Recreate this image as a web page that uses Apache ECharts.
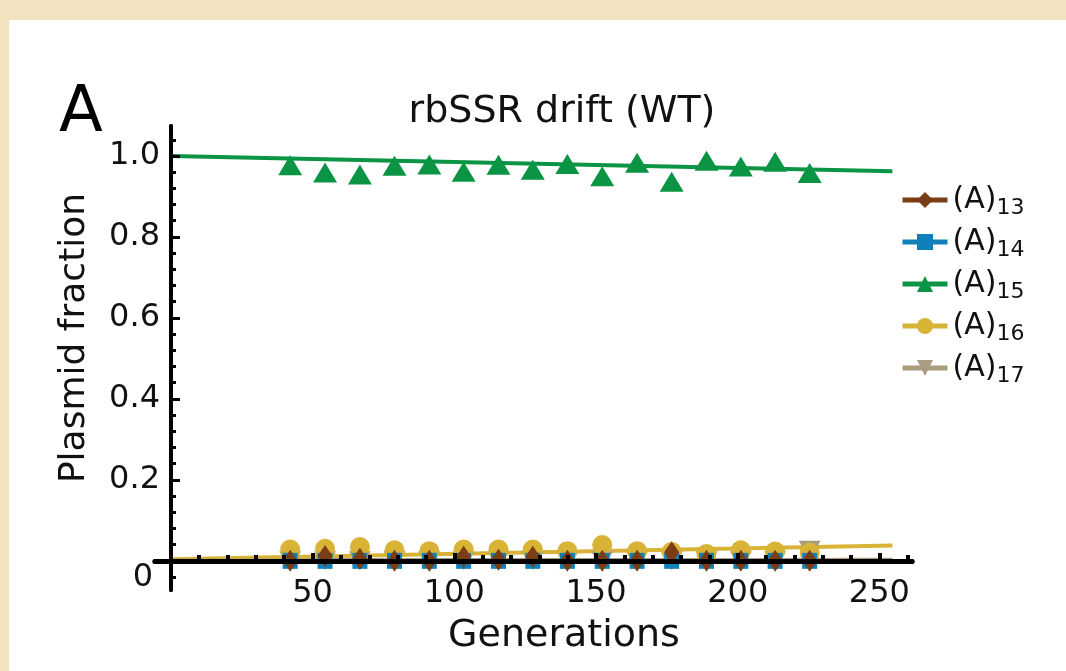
<!DOCTYPE html>
<html>
<head>
<meta charset="utf-8">
<script src="https://cdn.jsdelivr.net/npm/echarts@6/dist/echarts.min.js"></script>
<style>
  html, body { margin: 0; padding: 0; width: 1066px; height: 671px; overflow: hidden; background: #f2e2bf; }
  #panel { position: absolute; left: 9px; top: 20px; right: 0; bottom: 0; background: #ffffff; }
  #chart { position: absolute; left: 0; top: 0; width: 1066px; height: 671px; }
</style>
</head>
<body>
<div id="panel"></div>
<div id="chart"></div>
<script>
// Sampling points (generations) and measured plasmid fractions per repeat length
const generations = [42.1, 54.4, 66.7, 78.9, 91.2, 103.3, 115.6, 127.7, 139.9, 152.2, 164.5, 176.7, 189.0, 201.1, 213.2, 225.4];
const a13 = [0, 0.012, 0.005, 0, 0, 0.010, 0.003, 0.010, 0, 0, 0, 0.021, 0, 0, 0, 0];
const a14 = [0, 0, 0, 0, 0, 0, 0, 0, 0, 0, 0, 0, 0, 0, 0, 0];
const a15 = [0.977, 0.959, 0.954, 0.976, 0.979, 0.961, 0.978, 0.966, 0.980, 0.950, 0.983, 0.936, 0.988, 0.974, 0.986, 0.958];
const a16 = [0.028, 0.030, 0.034, 0.026, 0.024, 0.028, 0.028, 0.028, 0.024, 0.039, 0.024, 0.022, 0.017, 0.026, 0.023, 0.020];
const a17 = [0, 0, 0, 0, 0, 0, 0, 0, 0, 0, 0, 0, 0, 0, 0, 0.026];

// Drift fit lines: start and end generation, and fitted fraction at each end
const fitGenerations = [0, 254.6];
const fitA13 = [0.001, 0.001];
const fitA14 = [0, 0];
const fitA15 = [1.0, 0.962];
const fitA16 = [0.004, 0.038];
const fitA17 = [0, 0.003];

// Axis ticks
const xMajorTicks = [50, 100, 150, 200, 250];
const yMajorTicks = [0, 0.2, 0.4, 0.6, 0.8, 1.0];

const xMinorTicks = [];
for (let v = 10; v <= 260; v += 10) if (v % 50 !== 0) xMinorTicks.push(v);
const yMinorTicks = [];
for (let k = -1; k <= 26; k++) if (k % 5 !== 0) yMinorTicks.push(+(k * 0.04).toFixed(2));

const FONT = 'DejaVu Sans';

// Plot frame: axes cross at (0, 0), slightly inside the plotting box
const X_MIN = -5.6, X_MAX = 261.5, Y_MIN = -0.072, Y_MAX = 1.074;
const GRID = { left: 155, top: 126, width: 757, height: 464 };
const yAxisShift = -Math.round((0 - X_MIN) / (X_MAX - X_MIN) * GRID.width);
const xAxisShift = -Math.round((0 - Y_MIN) / (Y_MAX - Y_MIN) * GRID.height);

const species = [
  { name: '(A)13', color: '#7a3d14', symbol: 'diamond', size: [15, 22], values: a13, fit: fitA13, z: 6 },
  { name: '(A)14', color: '#1180b8', symbol: 'rect', size: [15, 16], values: a14, fit: fitA14, z: 5 },
  { name: '(A)15', color: '#0b9444', symbol: 'triangle', size: [24, 20], values: a15, fit: fitA15, z: 6 },
  { name: '(A)16', color: '#d9b336', symbol: 'circle', size: 20, values: a16, fit: fitA16, z: 4 },
  { name: '(A)17', color: '#a99c80', symbol: 'path://M0,0 L10,0 L5,9 Z', size: [22, 19], values: a17, fit: fitA17, z: 3 }
];

const series = [];
species.forEach(s => {
  series.push({
    type: 'line',
    name: s.name,
    data: fitGenerations.map((g, i) => [g, s.fit[i]]),
    symbol: s.symbol,
    showSymbol: false,
    lineStyle: { color: s.color, width: 4 },
    itemStyle: { color: s.color },
    z: 1,
    silent: true
  });
});
species.forEach(s => {
  series.push({
    type: 'scatter',
    name: s.name,
    data: generations.map((g, i) => [g, s.values[i]]),
    symbol: s.symbol,
    symbolSize: s.size,
    itemStyle: { color: s.color, opacity: 1 },
    z: s.z
  });
});

const axisBase = {
  type: 'value',
  splitLine: { show: false }
};

const chart = echarts.init(document.getElementById('chart'), null, { renderer: 'canvas' });
chart.setOption({
  animation: false,
  backgroundColor: 'transparent',
  textStyle: { fontFamily: FONT },
  grid: Object.assign({ containLabel: false }, GRID),
  xAxis: [
    Object.assign({}, axisBase, {
      min: X_MIN, max: X_MAX, position: 'bottom', offset: xAxisShift, z: 10,
      axisLine: { onZero: false, lineStyle: { color: '#000', width: 5 } },
      axisTick: { inside: true, length: 8, customValues: xMajorTicks, lineStyle: { color: '#000', width: 4 } },
      axisLabel: { customValues: xMajorTicks, margin: 17, color: '#111', fontSize: 32, fontFamily: FONT }
    }),
    Object.assign({}, axisBase, {
      min: X_MIN, max: X_MAX, position: 'bottom', offset: xAxisShift, z: 10,
      axisLine: { onZero: false, lineStyle: { color: '#000', width: 5 } },
      axisTick: { inside: true, length: 6, customValues: xMinorTicks, lineStyle: { color: '#000', width: 4 } },
      axisLabel: { show: false }
    })
  ],
  yAxis: [
    Object.assign({}, axisBase, {
      min: Y_MIN, max: Y_MAX, position: 'left', offset: yAxisShift, z: 10,
      axisLine: { onZero: false, lineStyle: { color: '#000', width: 4 } },
      axisTick: { inside: true, length: 9, customValues: yMajorTicks, lineStyle: { color: '#000', width: 3 } },
      axisLabel: {
        customValues: yMajorTicks, margin: 11, color: '#111', fontSize: 32, fontFamily: FONT,
        formatter: v => (v === 0 ? '{z|0}' : v.toFixed(1)),
        rich: { z: { fontSize: 32, fontFamily: FONT, color: '#111', padding: [34, 7, 0, 0] } }
      }
    }),
    Object.assign({}, axisBase, {
      min: Y_MIN, max: Y_MAX, position: 'left', offset: yAxisShift, z: 10,
      axisLine: { onZero: false, lineStyle: { color: '#000', width: 4 } },
      axisTick: { inside: true, length: 5, customValues: yMinorTicks, lineStyle: { color: '#000', width: 3 } },
      axisLabel: { show: false }
    })
  ],
  legend: {
    orient: 'vertical',
    left: 900,
    top: 181,
    padding: 0,
    itemWidth: 45,
    itemHeight: 20,
    itemGap: 4,
    data: species.map(s => s.name),
    lineStyle: { width: 5 },
    formatter: name => '(A){s|' + name.slice(3) + '}',
    textStyle: {
      fontFamily: FONT, fontSize: 30, color: '#111', lineHeight: 30,
      rich: { s: { fontFamily: FONT, fontSize: 22, color: '#111', lineHeight: 22, padding: [16, 0, 0, 0] } }
    },
    selectedMode: false
  },
  graphic: [
    { type: 'text', x: 81, y: 114, style: { text: 'A', fontFamily: FONT, fontSize: 64, fill: '#000', align: 'center', verticalAlign: 'middle' } },
    { type: 'text', x: 562, y: 112, style: { text: 'rbSSR drift (WT)', fontFamily: FONT, fontSize: 38, fill: '#111', align: 'center', verticalAlign: 'middle' } },
    { type: 'text', x: 564, y: 636, style: { text: 'Generations', fontFamily: FONT, fontSize: 38, fill: '#111', align: 'center', verticalAlign: 'middle' } },
    { type: 'text', x: 75, y: 338, rotation: Math.PI / 2, style: { text: 'Plasmid fraction', fontFamily: FONT, fontSize: 36, fill: '#111', align: 'center', verticalAlign: 'middle' } }
  ],
  series: series
});
</script>
</body>
</html>
